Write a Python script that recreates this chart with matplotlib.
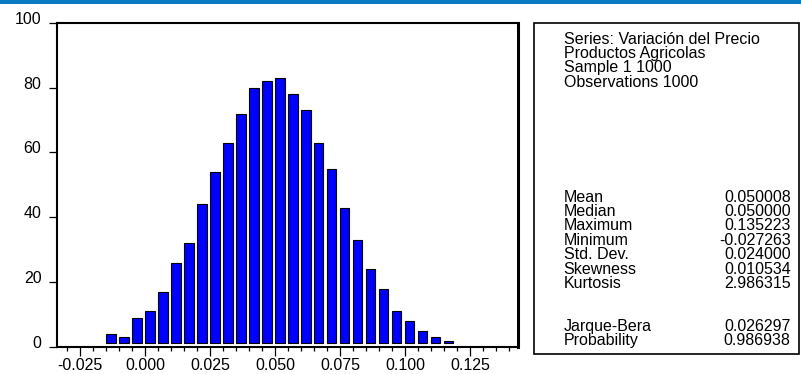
import matplotlib
matplotlib.use("Agg")
import matplotlib.pyplot as plt
from matplotlib.patches import Rectangle
import matplotlib.transforms as mtransforms
import numpy as np

plt.rcParams['font.family'] = ['Liberation Sans', 'DejaVu Sans']

# histogram data (bin left edges, counts)
bin_left = [-0.015, -0.010, -0.005, 0.000, 0.005, 0.010, 0.015, 0.020, 0.025,
            0.030, 0.035, 0.040, 0.045, 0.050, 0.055, 0.060, 0.065, 0.070,
            0.075, 0.080, 0.085, 0.090, 0.095, 0.100, 0.105, 0.110, 0.115]
counts = [4, 3, 9, 11, 17, 26, 32, 44, 54, 63, 72, 80, 82, 83, 78, 73, 63, 55,
          43, 33, 24, 18, 11, 8, 5, 3, 2]

x_major = [-0.025, 0.000, 0.025, 0.050, 0.075, 0.100, 0.125]
y_major = [0, 20, 40, 60, 80, 100]

header_lines = ["Series: Variación del Precio", "Productos Agricolas",
                "Sample 1 1000", "Observations 1000"]
stat_names = ["Mean", "Median", "Maximum", "Minimum", "Std. Dev.",
              "Skewness", "Kurtosis"]
stat_values = ["0.050008", "0.050000", "0.135223", "-0.027263", "0.024000",
               "0.010534", "2.986315"]
test_names = ["Jarque-Bera", "Probability"]
test_values = ["0.026297", "0.986938"]

W, H = 801, 374
fig = plt.figure(figsize=(W / 100, H / 100), dpi=100)

def fx(px):
    return px / W

def fy(py):
    return 1 - py / H

# blue band at top
fig.patches.append(Rectangle((0, fy(4)), 1, 4 / H, transform=fig.transFigure,
                             facecolor='#0A7BC2', edgecolor='none'))

# histogram axes
ax = fig.add_axes([fx(56.7), fy(347), fx(518.3 - 56.7), (347 - 22.7) / H])
gap = 1.2
ax.bar(np.array(bin_left) + 0.00005, np.array(counts) - gap, bottom=gap,
       width=0.0036, align='edge', color='#0000FF', edgecolor='black',
       linewidth=0.8)

ax.set_xlim(-0.034, 0.1436)
ax.set_ylim(0, 100)
ax.set_xticks(x_major)
ax.set_xticklabels(['%.3f' % v for v in x_major])
ax.set_xticks(np.arange(-0.030, 0.1401, 0.005), minor=True)
ax.set_yticks(y_major)
ax.set_yticklabels([str(v) for v in y_major])

ax.tick_params(axis='x', which='major', direction='out', length=6.5, width=0.9,
               pad=1.5, labelsize=11.5)
ax.tick_params(axis='x', which='minor', direction='out', length=3.2, width=0.9)
ax.tick_params(axis='y', which='major', direction='out', length=6, width=0.9,
               pad=5, labelsize=11.5)

# y labels sit a bit above their ticks
offset = mtransforms.ScaledTranslation(0, 5 / 100, fig.dpi_scale_trans)
for lab in ax.get_yticklabels():
    lab.set_transform(lab.get_transform() + offset)

for side in ['left', 'top', 'bottom']:
    ax.spines[side].set_linewidth(1.5)
ax.spines['right'].set_linewidth(2.2)

# stats box
fig.patches.append(Rectangle((fx(534.3), fy(354)), fx(799 - 534.3), (354 - 23.3) / H,
                             transform=fig.transFigure, facecolor='white',
                             edgecolor='black', linewidth=1.2))

fs = 11.5
x_left = 563.5
x_right = 790.7
for i, t in enumerate(header_lines):
    fig.text(fx(x_left), fy(43.5 + 14.4 * i), t, fontsize=fs, va='baseline')
for i, (n, v) in enumerate(zip(stat_names, stat_values)):
    y = fy(201.5 + 14.4 * i)
    fig.text(fx(x_left), y, n, fontsize=fs, va='baseline')
    fig.text(fx(x_right), y, v, fontsize=fs, va='baseline', ha='right')
for i, (n, v) in enumerate(zip(test_names, test_values)):
    y = fy(331 + 14.4 * i)
    fig.text(fx(x_left), y, n, fontsize=fs, va='baseline')
    fig.text(fx(x_right), y, v, fontsize=fs, va='baseline', ha='right')

fig.savefig('out.png', dpi=100)
